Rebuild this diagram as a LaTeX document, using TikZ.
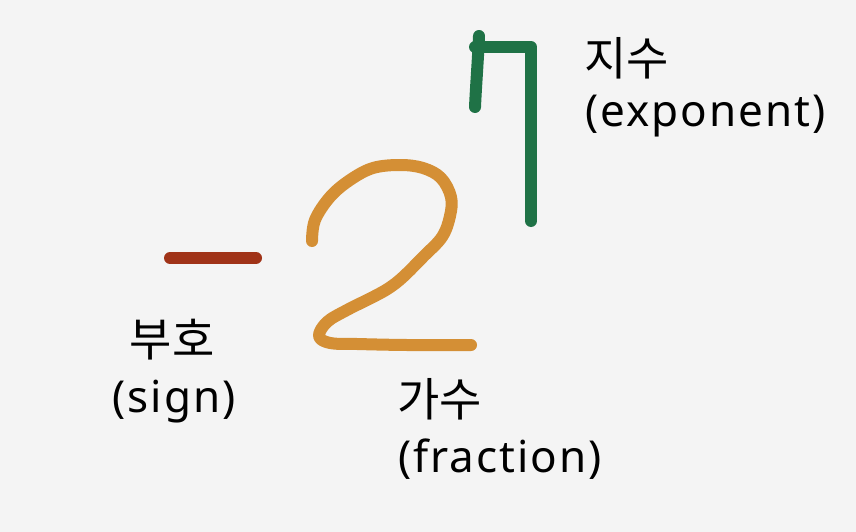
\documentclass[tikz,border=0pt]{standalone}
\usepackage{fontspec}
\setmainfont{Noto Sans}[LetterSpace=4.5]
\newfontfamily\kr{Noto Sans CJK KR}
\definecolor{bgc}{HTML}{F4F4F4}
\definecolor{signc}{HTML}{A03318}
\definecolor{fracc}{HTML}{D48F35}
\definecolor{expc}{HTML}{1F7246}
\tikzset{
  pen/.style={line width=12pt, line cap=round, line join=round},
  krlbl/.style={inner sep=0pt, font=\kr\fontsize{46}{52}\selectfont, text=black},
  enlbl/.style={inner sep=0pt, font=\fontsize{44}{50}\selectfont, text=black},
}
\begin{document}
\begin{tikzpicture}[x=1pt,y=-1pt]
\fill[bgc] (0,0) rectangle (856,532);
\useasboundingbox (0,0) rectangle (856,532);
% sign
\draw[pen, signc] (170,258) -- (256,258);
% fraction "2"
\draw[pen, fracc] plot[smooth, tension=0.6] coordinates {
 (312,241) (315,220) (330,197) (350,180) (373,168) (400,165) (423,168)
 (441,178) (451,197) (450,216) (442,237) (423,257) (403,277) (389,288)
 (373,297) (347,310) (327,322) (319,336) (330,343) (357,344) (407,345) (471,345)};
% exponent "7"
\draw[pen, expc] (479,36) .. controls (478,60) and (476,85) .. (475,107);
\draw[pen, expc] (475,47) -- (531,47) -- (531,221);
% labels
\node[krlbl, anchor=base west] (expk) at (584,76) {지수};
\node[enlbl, anchor=base west] (expe) at (585,127) {(exponent)};
\node[krlbl, anchor=base] (signk) at (172,356) {부호};
\node[enlbl, anchor=base] (signe) at (174,412) {(sign)};
\node[krlbl, anchor=base west] (frack) at (397,416) {가수};
\node[enlbl, anchor=base west] (frace) at (398,472) {(fraction)};
\end{tikzpicture}
\end{document}
